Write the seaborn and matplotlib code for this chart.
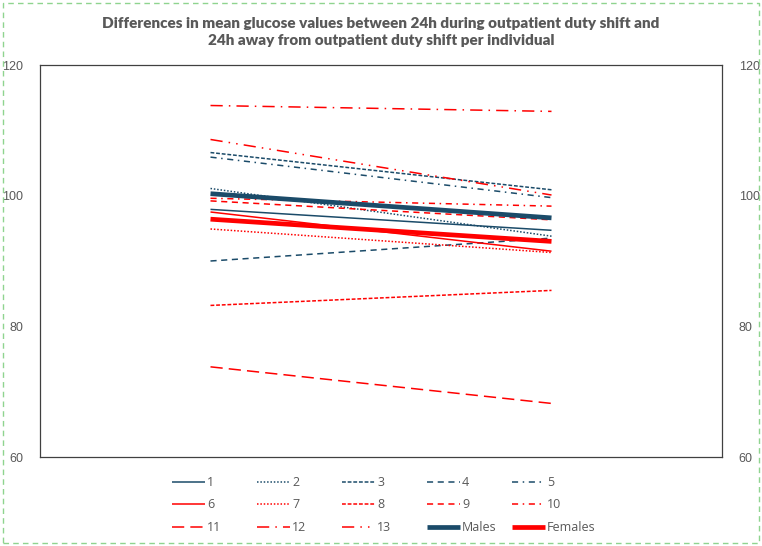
import matplotlib
matplotlib.use("Agg")
import matplotlib.pyplot as plt
import seaborn as sns
import pandas as pd
from matplotlib.patches import Rectangle

# ---- data ----
periods = ["During duty shift", "Away from duty shift"]
series_names = ["1", "2", "3", "4", "5", "6", "7", "8", "9", "10", "11", "12", "13", "Males", "Females"]
start_values = [97.9, 101.1, 106.6, 90.0, 105.9, 97.5, 94.9, 83.2, 99.2, 99.6, 73.8, 113.8, 108.6, 100.3, 96.4]
end_values = [94.7, 93.8, 100.9, 93.5, 99.7, 91.5, 91.3, 85.5, 96.3, 98.4, 68.2, 112.9, 100.1, 96.6, 93.0]
y_ticks = [60, 80, 100, 120]
title = ("Differences in mean glucose values between 24h during outpatient duty shift and\n"
         "24h away from outpatient duty shift per individual")

NAVY = "#1B4B69"
RED = "#FF0000"
colors = [NAVY] * 5 + [RED] * 8 + [NAVY, RED]
dashes = [
    "-", (0, (1, 1.2)), (0, (2.5, 1.2)), (0, (4, 3)), (0, (4, 3, 1, 3)),
    "-", (0, (1, 1.2)), (0, (2.5, 1.2)), (0, (4, 3)), (0, (4, 3, 1, 3)),
    (0, (8, 4)), (0, (8, 4, 1, 4)), (0, (8, 4, 1, 4, 1, 4)),
    "-", "-",
]
widths = [1.1] * 13 + [3.4, 3.4]

rows = []
for name, s, e in zip(series_names, start_values, end_values):
    rows.append({"series": name, "x": 0, "value": s})
    rows.append({"series": name, "x": 1, "value": e})
df = pd.DataFrame(rows)

sns.set_style("white")
plt.rcParams["font.family"] = ["Open Sans", "DejaVu Sans"]

fig = plt.figure(figsize=(7.62, 5.46), dpi=100)
ax = fig.add_axes([40 / 762, 1 - 457 / 546, (722 - 40) / 762, (457 - 65) / 546])

handles = []
for i, name in enumerate(series_names):
    sub = df[df["series"] == name]
    sns.lineplot(data=sub, x="x", y="value", ax=ax, color=colors[i],
                 linewidth=widths[i], label=name, legend=False)
    ln = ax.lines[-1]
    ln.set_linestyle(dashes[i])
    ln.set_solid_capstyle("butt")
    ln.set_dash_capstyle("butt")
    handles.append(ln)

ax.set_xlim(-0.5, 1.5)
ax.set_ylim(60, 120)
ax.set_yticks(y_ticks)
ax.set_xticks([])
ax.set_xlabel("")
ax.set_ylabel("")
ax.tick_params(axis="y", left=False, right=False, labelleft=True, labelright=True,
               labelsize=9, labelcolor="#595959", pad=8.5)
for lab in ax.get_yticklabels():
    lab.set_family(["Liberation Sans", "DejaVu Sans"])
for sp in ax.spines.values():
    sp.set_visible(True)
    sp.set_color("#404040")
    sp.set_linewidth(0.9)

fig.text(0.5, 1 - 32 / 546, title, ha="center", va="center", fontsize=11,
         fontweight="heavy", color="#595959", linespacing=1.4,
         family=["Lato", "DejaVu Sans"])

# legend: 5 columns x 3 rows, read row-wise
col_x = [172, 257, 342, 427, 512]
for c in range(5):
    idx = [c, c + 5, c + 10]
    leg = fig.legend([handles[k] for k in idx], [series_names[k] for k in idx],
                     loc="center left", bbox_to_anchor=(col_x[c] / 762, 1 - 505 / 546),
                     frameon=False, fontsize=9, handlelength=2.6, handletextpad=0.2,
                     labelspacing=0.75, borderpad=0, borderaxespad=0)
    for t in leg.get_texts():
        t.set_color("#595959")

fig.patches.append(Rectangle((3 / 762, 3 / 546), 756 / 762, 540 / 546,
                             transform=fig.transFigure, fill=False,
                             edgecolor="#8FD48F", linewidth=1.0,
                             linestyle=(0, (4, 3))))

fig.savefig("out.png", dpi=100)
